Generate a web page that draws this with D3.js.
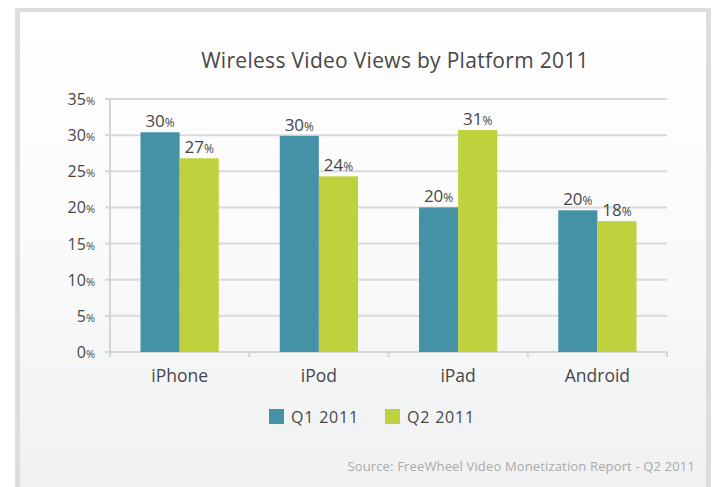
<!DOCTYPE html>
<html><head><meta charset="utf-8">
<script src="https://cdn.jsdelivr.net/npm/d3@7/dist/d3.min.js"></script>
<style>body{margin:0;background:#fff}svg{display:block}</style>
</head><body>
<script>
const categories = ["iPhone", "iPod", "iPad", "Android"];
const series = ["Q1 2011", "Q2 2011"];
const q1Values = [30.4, 29.9, 20.0, 19.6];
const q2Values = [26.8, 24.3, 30.7, 18.1];
const q1Labels = ["30", "30", "20", "20"];
const q2Labels = ["27", "24", "31", "18"];
const yTicks = [0, 5, 10, 15, 20, 25, 30, 35];
const colors = ["#4592a6", "#bfd13c"];

const W = 712, H = 487;
const font = "'Open Sans', Lato, sans-serif";
const svg = d3.select("body").append("svg").attr("width", W).attr("height", H);
const defs = svg.append("defs");
const grad = defs.append("linearGradient").attr("id", "bg").attr("x1", 0).attr("y1", 0).attr("x2", 0).attr("y2", 1);
grad.append("stop").attr("offset", "0").attr("stop-color", "#ffffff");
grad.append("stop").attr("offset", "0.45").attr("stop-color", "#fbfbfb");
grad.append("stop").attr("offset", "1").attr("stop-color", "#eff1f2");

// frame
svg.append("rect").attr("x", 15).attr("y", 8).attr("width", 696).attr("height", 490).attr("fill", "#dcdddd");
svg.append("rect").attr("x", 20).attr("y", 12).attr("width", 686).attr("height", 480).attr("fill", "url(#bg)");

const m = {left: 110, right: 667, top: 99, bottom: 352};
const x = d3.scaleBand().domain(categories).range([m.left, m.right]).paddingInner(0).paddingOuter(0);
const xs = d3.scaleBand().domain(series).range([0, x.bandwidth()]).paddingInner(0).paddingOuter(0.78);
const y = d3.scaleLinear().domain([0, 35]).range([m.bottom, m.top]);

// gridlines
svg.append("g").selectAll("line").data(yTicks.filter(d => d > 0)).join("line")
  .attr("x1", m.left).attr("x2", m.right).attr("y1", d => y(d)).attr("y2", d => y(d))
  .attr("stroke", "#d9dadb").attr("stroke-width", 2);

// axes lines
const axCol = "#d3d4d5";
svg.append("line").attr("x1", m.left).attr("x2", m.left).attr("y1", m.top).attr("y2", m.bottom + 4).attr("stroke", axCol).attr("stroke-width", 2);
svg.append("line").attr("x1", m.left - 4).attr("x2", m.right).attr("y1", m.bottom).attr("y2", m.bottom).attr("stroke", axCol).attr("stroke-width", 2);
svg.append("g").selectAll("line").data(yTicks).join("line")
  .attr("x1", m.left - 5).attr("x2", m.left).attr("y1", d => y(d)).attr("y2", d => y(d)).attr("stroke", axCol).attr("stroke-width", 2);
const bounds = categories.map(c => x(c)).concat([m.right]);
svg.append("g").selectAll("line").data(bounds).join("line")
  .attr("x1", d => d).attr("x2", d => d).attr("y1", m.bottom).attr("y2", m.bottom + 5).attr("stroke", axCol).attr("stroke-width", 2);

// y tick labels
const yl = svg.append("g").selectAll("text").data(yTicks).join("text")
  .attr("x", 95).attr("y", d => y(d) + 6).attr("text-anchor", "end")
  .attr("font-family", font).attr("font-size", 16).attr("fill", "#474747");
yl.append("tspan").text(d => d);
yl.append("tspan").attr("font-size", 11).text("%");

// bars
const data = categories.map((c, i) => ({c, vals: [q1Values[i], q2Values[i]], labs: [q1Labels[i], q2Labels[i]]}));
const g = svg.append("g").selectAll("g").data(data).join("g").attr("transform", d => `translate(${x(d.c)},0)`);
g.selectAll("rect").data(d => d.vals.map((v, j) => ({v, j}))).join("rect")
  .attr("x", d => xs(series[d.j])).attr("width", xs.bandwidth())
  .attr("y", d => y(d.v)).attr("height", d => y(0) - y(d.v))
  .attr("fill", d => colors[d.j]);
const lt = g.selectAll("text").data(d => d.labs.map((l, j) => ({l, v: d.vals[j], j}))).join("text")
  .attr("x", d => xs(series[d.j]) + xs.bandwidth() / 2).attr("y", d => y(d.v) - 5)
  .attr("text-anchor", "middle").attr("font-family", font).attr("font-size", 17).attr("fill", "#474747");
lt.append("tspan").text(d => d.l);
lt.append("tspan").attr("font-size", 12).text("%");

// category labels
svg.append("g").selectAll("text").data(categories).join("text")
  .attr("x", d => x(d) + x.bandwidth() / 2).attr("y", 382).attr("text-anchor", "middle")
  .attr("font-family", font).attr("font-size", 17.5).attr("fill", "#474747").text(d => d);

// title
svg.append("text").attr("x", 395).attr("y", 68).attr("text-anchor", "middle")
  .attr("font-family", font).attr("font-size", 21).attr("fill", "#474747").attr("letter-spacing", 0.3)
  .text("Wireless Video Views by Platform 2011");

// legend
const legX = [269, 385];
const lg = svg.append("g").selectAll("g").data(series).join("g").attr("transform", (d, i) => `translate(${legX[i]},409)`);
lg.append("rect").attr("width", 15).attr("height", 15).attr("fill", (d, i) => colors[i]);
lg.append("text").attr("x", 22).attr("y", 14).attr("font-family", font).attr("font-size", 16).attr("fill", "#474747").attr("letter-spacing", 0.8).text(d => d);

// source
svg.append("text").attr("x", 695).attr("y", 471).attr("text-anchor", "end")
  .attr("font-family", font).attr("font-size", 13).attr("fill", "#aaaaaa").attr("letter-spacing", 0.15)
  .text("Source: FreeWheel Video Monetization Report - Q2 2011");
</script>
</body></html>
